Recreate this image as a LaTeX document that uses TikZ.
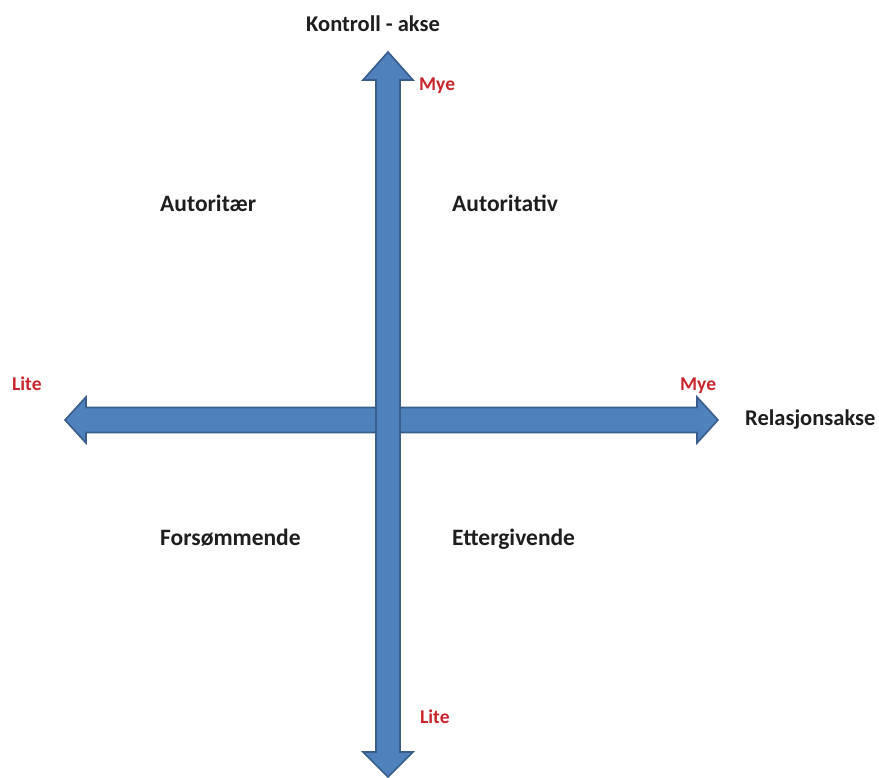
\documentclass[tikz,border=0pt]{standalone}
\usepackage{fontspec}
\setmainfont{Carlito}
\definecolor{arrowfill}{HTML}{4F81BD}
\definecolor{arrowline}{HTML}{385D8A}
\definecolor{redtext}{HTML}{C8262C}
\definecolor{darktext}{HTML}{1E1E1E}
\begin{document}
\begin{tikzpicture}[x=1pt,y=-1pt,
  axisarrow/.style={fill=arrowfill,draw=arrowline,line width=1.6pt,line join=miter},
  quadlabel/.style={anchor=base west,inner sep=0pt,text=darktext,font=\fontsize{23.5}{26}\selectfont\bfseries},
  axislabel/.style={anchor=base west,inner sep=0pt,text=darktext,font=\fontsize{22.5}{25}\selectfont\bfseries},
  endlabel/.style={anchor=base west,inner sep=0pt,text=redtext,font=\fontsize{19.5}{21}\selectfont\bfseries}]
\useasboundingbox (0,0) rectangle (879,778);
% horizontal double arrow
\draw[axisarrow] (65,420) -- (86,397) -- (86,407.5) -- (697,407.5) -- (697,397) -- (718,420)
  -- (697,443) -- (697,432.5) -- (86,432.5) -- (86,443) -- cycle;
% vertical double arrow
\draw[axisarrow] (388,52) -- (413,80) -- (400,80) -- (400,752) -- (413,752) -- (388,777)
  -- (363,752) -- (376,752) -- (376,80) -- (363,80) -- cycle;
% labels
\node[axislabel] (kontroll) at (306,32) {Kontroll - akse};
\node[axislabel] (relasjon) at (745,425) {Relasjonsakse};
\node[endlabel] (myetop) at (419,91) {Mye};
\node[endlabel] (myeright) at (680,390) {Mye};
\node[endlabel] (liteleft) at (12,390) {Lite};
\node[endlabel] (litebottom) at (420,723) {Lite};
\node[quadlabel] (autoritaer) at (160,212) {Autoritær};
\node[quadlabel] (autoritativ) at (452,212) {Autoritativ};
\node[quadlabel] (forsommende) at (160,545) {Forsømmende};
\node[quadlabel] (ettergivende) at (452,545) {Ettergivende};
\end{tikzpicture}
\end{document}
